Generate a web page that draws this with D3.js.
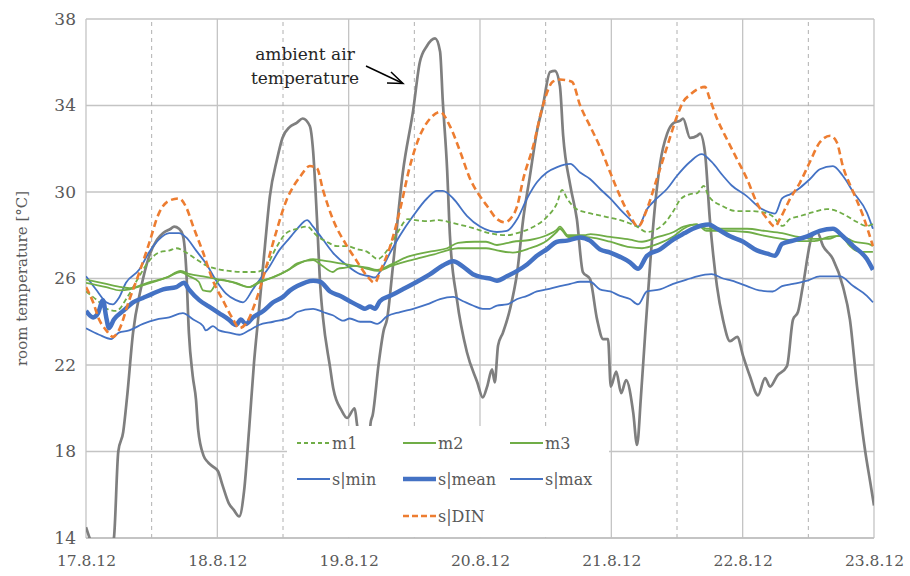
<!DOCTYPE html>
<html><head><meta charset="utf-8">
<script src="https://cdn.jsdelivr.net/npm/d3@7/dist/d3.min.js"></script>
<style>body{margin:0;background:#fff}svg{display:block}</style>
</head><body><svg id="c" width="910" height="576"></svg>
<script>
// x values are hours since 17.8.12 00:00
const xTickLabels = ["17.8.12","18.8.12","19.8.12","20.8.12","21.8.12","22.8.12","23.8.12"];
const yTicks = [14,18,22,26,30,34,38];

const ambient = [[0,14.5],[0.8,13.9],[2.5,13.0],[4.5,13.5],[5.1,14.0],[5.9,18.0],[6.8,18.9],[7.5,20.5],[8.6,23.5],[10,25.5],[11.5,27.0],[13,27.8],[14.1,28.1],[15.5,28.3],[16.1,28.4],[17.0,28.3],[17.7,28.0],[18.3,26.5],[18.8,23.5],[19.5,21.5],[20.1,20.4],[20.5,19.0],[21.5,17.8],[22.3,17.5],[23.2,17.3],[24.1,17.1],[25.0,16.4],[26.1,15.6],[27.0,15.3],[28.0,15.0],[28.9,16.2],[29.8,19.0],[30.7,22.1],[31.6,24.5],[32.7,27.5],[33.6,29.8],[34.9,31.5],[35.9,32.5],[37.2,33.0],[38.5,33.2],[39.6,33.4],[40.9,33.05],[41.5,31.9],[42.2,28.8],[42.8,25.7],[43.3,24.2],[44.6,21.9],[45.2,20.9],[46.7,19.9],[47.7,19.55],[49.1,20.0],[49.5,19.3],[50.5,17.5],[51.5,17.5],[52.0,19.3],[52.4,19.7],[53.5,22.1],[54.4,23.6],[55.0,24.1],[56.1,26.6],[57.9,30.9],[59.8,33.8],[61.0,36.0],[62.3,36.75],[63.8,37.1],[64.7,36.5],[65.2,34.2],[66.0,31.0],[66.5,28.0],[67.8,25.0],[69.6,22.6],[71.5,21.2],[72.5,20.5],[73.3,21.0],[74.2,21.8],[74.7,21.2],[75.3,22.9],[76.2,23.5],[77.5,24.6],[78.8,26.3],[79.9,28.75],[81.1,30.7],[82.4,32.8],[83.5,34.0],[84.8,35.55],[85.7,35.6],[86.6,34.9],[87.2,32.6],[88.5,30.3],[89.7,28.75],[90.8,26.3],[92.1,25.98],[93.4,24.1],[94.5,23.2],[95.4,23.2],[95.9,21.0],[96.9,21.7],[97.8,20.7],[98.7,21.3],[100.0,19.8],[100.7,18.3],[101.4,20.5],[102.2,23.5],[103.1,26.7],[104.0,29.4],[104.9,31.3],[106.2,32.7],[107.4,33.2],[108.6,33.3],[109.1,33.4],[110.4,32.5],[111.7,32.6],[112.2,32.7],[113.1,31.85],[114.0,28.75],[115.3,25.65],[116.4,24.1],[117.7,23.1],[119.0,23.3],[120.1,22.4],[121.3,21.5],[122.8,20.6],[124.1,21.4],[125.0,21.0],[126.3,21.5],[128.1,21.95],[129.2,24.1],[130.1,24.45],[131.0,25.65],[132.7,27.97],[133.6,28.15],[134.7,27.5],[136.5,26.9],[138.3,25.65],[139.6,24.1],[140.9,21.0],[142.4,18.0],[143.3,16.6],[144,15.5]];

const m1 = [[0,25.4],[2,25.0],[3.8,24.6],[5.5,24.5],[7.7,25.2],[9.5,26.0],[11.5,26.8],[13.3,27.2],[15.3,27.3],[16.5,27.4],[18.3,27.2],[20.1,26.9],[22.0,26.6],[23.8,26.45],[26.1,26.35],[28.7,26.3],[31.1,26.3],[32.9,26.55],[34.7,27.4],[36.6,28.1],[38.6,28.3],[40.4,28.4],[42.2,27.97],[44.0,27.7],[45.9,27.5],[47.7,27.5],[49.5,27.36],[51.4,27.23],[53.3,26.9],[55.2,27.36],[57.0,28.15],[58.8,28.75],[60.1,28.7],[62.3,28.65],[64.5,28.7],[66.9,28.57],[70.6,28.34],[73.7,28.1],[76.9,28.0],[78.8,28.1],[81.7,28.38],[84.2,28.84],[86.1,29.5],[87.0,30.1],[87.9,29.7],[89.7,29.2],[91.6,29.05],[95.2,28.84],[98.1,28.66],[100.7,28.4],[102.5,28.15],[105.5,28.5],[107.3,29.1],[108.6,29.65],[110.4,29.9],[111.7,29.95],[112.9,30.28],[113.8,29.8],[116.3,29.35],[118.8,29.12],[121.3,29.12],[123.6,29.07],[125.4,28.89],[127.3,28.43],[128.6,28.75],[130.5,28.89],[132.9,29.07],[135.4,29.21],[137.2,29.12],[139.0,28.89],[140.9,28.61],[142.7,28.43],[143.8,28.52]];

const m2 = [[0,25.95],[3.7,25.75],[6.5,25.6],[8.0,25.55],[11.2,25.8],[14.8,26.05],[17.3,26.35],[19.0,26.2],[21.4,26.1],[24.3,25.95],[27.4,25.8],[29.8,25.6],[31.6,25.85],[34.2,26.05],[37.0,26.4],[38.6,26.65],[41.5,26.9],[42.8,26.85],[45.4,26.75],[48.8,26.6],[51.4,26.5],[53.2,26.4],[55.8,26.65],[58.7,27.0],[61.0,27.15],[63.4,27.27],[66.0,27.4],[68.0,27.65],[71.0,27.7],[73.1,27.7],[75.1,27.55],[78.0,27.7],[81.1,27.78],[84.2,28.0],[86.0,28.25],[86.6,28.4],[88.1,28.0],[91.1,28.0],[92.2,28.05],[95.8,27.92],[99.4,27.8],[101.6,27.7],[104.5,27.92],[107.4,28.15],[109.2,28.4],[111.6,28.5],[113.4,28.3],[116.4,28.3],[120.8,28.3],[124.1,28.2],[127.2,28.1],[130.2,27.92],[133.1,27.83],[135.7,27.83],[137.5,27.97],[139.3,27.83],[140.5,27.69],[143.0,27.6],[143.8,27.5]];

const m3 = [[0,25.8],[3.7,25.6],[6.2,25.45],[8.0,25.5],[11.2,25.75],[14.8,26.05],[17.3,26.3],[18.9,26.1],[20.6,25.85],[21.4,25.45],[22.7,25.4],[23.6,25.7],[24.5,25.95],[26.5,25.85],[29.8,25.6],[31.6,25.8],[34.2,26.07],[37.0,26.4],[38.6,26.7],[41.5,26.85],[43.1,26.6],[45.1,26.3],[46.0,26.45],[47.4,26.5],[49.3,26.58],[51.4,26.45],[53.2,26.35],[55.8,26.58],[58.7,26.8],[61.0,26.95],[63.4,27.1],[66.0,27.3],[68.0,27.4],[71.0,27.4],[73.1,27.4],[75.1,27.3],[78.0,27.2],[81.1,27.4],[84.2,27.75],[86.0,28.15],[86.6,28.3],[88.1,27.92],[91.1,27.92],[92.2,27.9],[95.8,27.7],[99.4,27.45],[101.6,27.4],[104.5,27.6],[107.4,27.95],[109.2,28.3],[111.6,28.5],[113.4,28.2],[116.4,28.2],[120.8,28.15],[124.1,27.97],[127.2,27.83],[130.2,27.73],[133.1,27.73],[135.7,27.92],[137.9,27.97],[139.6,27.5],[140.9,27.27],[142.7,27.23],[143.8,27.23]];

const sMin = [[0,23.7],[2.4,23.4],[4.6,23.2],[6.0,23.5],[7.9,23.6],[10.4,23.9],[12.8,24.1],[15.2,24.2],[17.7,24.4],[19.6,24.1],[21.4,23.8],[21.9,23.6],[23.2,23.8],[24.3,23.6],[26.1,23.5],[28.0,23.4],[29.8,23.6],[31.6,23.85],[34.2,24.0],[37.3,24.2],[38.6,24.45],[41.5,24.6],[43.3,24.45],[45.1,24.3],[47.0,24.05],[48.2,24.15],[50.1,24.0],[51.9,24.0],[53.2,23.9],[55.0,24.25],[57.4,24.45],[59.8,24.6],[62.3,24.8],[64.7,25.05],[67.1,25.15],[68.9,24.95],[70.7,24.75],[72.5,24.6],[73.8,24.6],[75.1,24.75],[76.9,24.8],[78.8,25.05],[80.6,25.2],[82.4,25.4],[84.2,25.5],[86.6,25.65],[88.5,25.75],[90.3,25.85],[92.1,25.85],[93.9,25.5],[95.8,25.4],[97.6,25.2],[99.4,25.05],[100.9,24.8],[102.5,25.4],[104.9,25.5],[107.3,25.75],[110.4,26.0],[111.7,26.1],[114.3,26.2],[116.4,26.0],[118.0,25.9],[120.8,25.65],[123.0,25.45],[125.5,25.4],[127.2,25.65],[129.2,25.75],[131.8,25.9],[134.1,26.1],[137.8,26.1],[140.2,25.65],[142.7,25.2],[143.8,24.9]];

const sMean = [[0,24.5],[1.3,24.2],[2.2,24.4],[3.1,25.0],[3.7,24.2],[4.2,23.7],[5.1,24.1],[6.8,24.5],[8.6,24.9],[10.4,25.1],[12.2,25.3],[14.1,25.5],[16.5,25.6],[17.9,25.8],[18.8,25.5],[20.7,25.0],[22.5,24.7],[24.3,24.4],[26.1,24.1],[27.4,23.85],[28.3,24.1],[29.2,23.9],[30.5,24.2],[32.4,24.5],[34.2,24.9],[36.0,25.15],[37.3,25.45],[38.6,25.65],[41.5,25.9],[42.8,25.85],[44.6,25.4],[46.4,25.2],[48.2,24.95],[50.1,24.7],[51.0,24.6],[51.9,24.7],[52.8,24.6],[53.7,24.95],[55.6,25.2],[57.9,25.5],[60.5,25.85],[62.9,26.2],[65.2,26.6],[67.1,26.8],[68.9,26.55],[70.7,26.2],[72.5,26.05],[73.8,26.0],[75.1,25.9],[76.9,26.1],[78.8,26.35],[80.6,26.65],[82.4,27.05],[84.2,27.35],[86.1,27.7],[87.9,27.75],[90.3,27.9],[92.1,27.75],[93.9,27.35],[95.8,27.2],[97.6,27.0],[99.4,26.75],[100.9,26.45],[102.5,27.05],[104.9,27.35],[107.3,27.8],[109.4,28.1],[110.9,28.3],[112.5,28.45],[113.8,28.5],[115.3,28.3],[117.7,27.95],[120.1,27.7],[122.6,27.3],[124.5,27.15],[125.9,27.05],[127.2,27.6],[129.2,27.75],[131.8,27.95],[134.1,28.2],[136.5,28.3],[138.3,27.95],[140.2,27.5],[142.7,26.9],[143.8,26.4]];

const sMax = [[0,26.1],[1.8,25.5],[3.7,24.9],[4.9,24.8],[6.0,25.1],[7.3,25.8],[9.7,26.4],[11.5,27.2],[13.3,27.8],[15.2,28.1],[17.0,28.1],[18.3,27.9],[20.1,27.3],[21.9,26.7],[23.8,25.9],[25.6,25.3],[27.4,25.0],[28.7,24.9],[30.5,25.5],[31.6,25.9],[33.4,26.5],[35.3,27.3],[37.3,27.9],[38.6,28.3],[40.4,28.7],[41.5,28.4],[43.3,27.8],[45.1,27.2],[47.7,26.6],[50.1,26.2],[51.9,26.1],[52.8,26.05],[53.7,26.3],[55.6,27.2],[57.4,28.0],[59.8,28.9],[62.3,29.7],[64.1,30.05],[65.2,30.05],[67.1,29.7],[69.6,28.9],[72.0,28.4],[73.8,28.2],[75.1,28.15],[76.9,28.2],[78.8,28.75],[80.6,29.7],[82.4,30.45],[84.2,30.9],[86.1,31.15],[88.5,31.3],[90.3,30.9],[92.1,30.6],[93.9,30.15],[95.8,29.7],[97.6,29.2],[99.4,28.75],[100.9,28.4],[102.5,29.2],[104.3,29.7],[106.2,30.15],[108.0,30.75],[110.4,31.4],[112.5,31.75],[114.3,31.4],[116.4,30.75],[118.0,30.3],[120.8,29.8],[123.0,29.3],[125.0,29.05],[125.9,29.0],[127.2,29.7],[128.7,29.9],[130.5,30.2],[132.3,30.6],[134.1,31.05],[136.5,31.2],[138.3,30.75],[140.2,30.0],[142.7,29.05],[143.8,28.3]];

const sDIN = [[0,25.6],[1.3,24.9],[2.4,24.1],[3.7,23.6],[4.9,23.3],[6.0,23.6],[7.9,25.0],[9.7,26.25],[11.5,27.6],[13.3,29.0],[15.2,29.6],[17.0,29.7],[18.3,29.3],[19.6,28.4],[21.4,27.2],[23.2,25.9],[25.0,25.0],[26.9,24.1],[28.0,23.7],[29.2,23.9],[31.1,25.0],[32.9,26.5],[34.7,28.1],[36.6,29.6],[38.0,30.3],[39.1,30.7],[40.9,31.2],[42.2,31.1],[43.3,30.1],[45.1,28.75],[47.7,27.5],[49.5,26.8],[51.4,26.1],[52.8,25.8],[53.7,26.3],[55.6,27.5],[57.4,29.2],[59.2,31.2],[61.0,32.6],[62.9,33.4],[64.7,33.7],[66.5,33.05],[68.4,31.85],[70.2,30.6],[72.0,29.8],[73.3,29.35],[75.1,28.75],[76.6,28.6],[77.5,28.75],[78.8,29.35],[79.9,30.6],[81.7,32.1],[83.5,34.0],[85.3,35.1],[86.6,35.2],[88.8,35.1],[90.3,34.0],[92.1,33.05],[93.9,32.1],[95.8,30.9],[97.6,29.8],[99.4,28.9],[100.9,28.4],[102.5,29.2],[104.3,30.6],[106.2,32.1],[108.0,33.5],[109.1,34.16],[110.4,34.5],[111.7,34.75],[113.1,34.86],[114.0,34.3],[115.3,33.4],[117.1,32.45],[119.0,31.5],[120.8,30.6],[122.6,29.5],[124.5,28.75],[125.9,28.4],[126.8,28.75],[128.7,29.7],[130.5,30.45],[132.3,31.4],[134.1,32.3],[136.0,32.6],[137.2,32.3],[138.3,31.2],[140.2,30.0],[142.0,28.9],[143.8,27.5]];

const legendNames = ["m1","m2","m3","s|min","s|mean","s|max","s|DIN"];

const W = 910, H = 576;
const margin = {left:86, right:36, top:19, bottom:38};
const svg = d3.select("#c");
const x = d3.scaleLinear().domain([0,144]).range([margin.left, W-margin.right]);
const y = d3.scaleLinear().domain([14,38]).range([H-margin.bottom, margin.top]);
const FONT = "'DejaVu Serif', serif";
const TXT = "#595959";
const GRID = "#c4c4c4";

// gridlines
const g = svg.append("g");
g.selectAll("line.h").data(yTicks).join("line")
  .attr("x1", x(0)).attr("x2", x(144)).attr("y1", d=>y(d)).attr("y2", d=>y(d))
  .attr("stroke", GRID).attr("stroke-width", 1.3);
const halfDays = d3.range(0, 145, 12);
g.selectAll("line.v").data(halfDays).join("line")
  .attr("x1", d=>x(d)).attr("x2", d=>x(d)).attr("y1", y(14)).attr("y2", y(38))
  .attr("stroke", d => d%24===0 ? GRID : "#b0b0b0")
  .attr("stroke-width", d => d%24===0 ? 1.3 : 1)
  .attr("stroke-dasharray", d => d%24===0 ? null : "4,4");
g.append("line").attr("x1", x(0)).attr("x2", x(144)).attr("y1", y(14)).attr("y2", y(14))
  .attr("stroke", "#bfbfbf").attr("stroke-width", 1.5);

// axes labels via d3 axes
const yAxis = d3.axisLeft(y).tickValues(yTicks).tickSize(0).tickPadding(10);
svg.append("g").attr("transform", `translate(${x(0)},0)`).call(yAxis)
  .call(a => a.select(".domain").remove())
  .selectAll("text").attr("font-family", FONT).attr("font-size", 17).attr("fill", TXT);
const xAxis = d3.axisBottom(x).tickValues(d3.range(0,145,24)).tickSize(0).tickPadding(17)
  .tickFormat((d,i) => xTickLabels[i]);
svg.append("g").attr("transform", `translate(0,${y(14)})`).call(xAxis)
  .call(a => a.select(".domain").remove())
  .selectAll("text").attr("font-family", FONT).attr("font-size", 15.5).attr("fill", TXT);

svg.append("text").attr("transform", `translate(27,${y(26)}) rotate(-90)`)
  .attr("text-anchor","middle").attr("font-family", FONT).attr("font-size", 15)
  .attr("fill", TXT).text("room temperature [°C]");

// clip
svg.append("clipPath").attr("id","clip").append("rect")
  .attr("x", x(0)).attr("y", y(38)).attr("width", x(144)-x(0)).attr("height", y(14)-y(38));

const line = d3.line().x(d=>x(d[0])).y(d=>y(d[1])).curve(d3.curveMonotoneX);
const GREEN = "#70ad47", BLUE = "#4472c4", ORANGE = "#ed7d31", GRAY = "#7f7f7f";
const series = [
  {d: ambient, c: GRAY, w: 2.7, dash: null},
  {d: sMin, c: BLUE, w: 1.8, dash: null},
  {d: sMax, c: BLUE, w: 1.8, dash: null},
  {d: m2, c: GREEN, w: 1.8, dash: null},
  {d: m3, c: GREEN, w: 1.8, dash: null},
  {d: m1, c: GREEN, w: 1.8, dash: "5,3"},
  {d: sMean, c: BLUE, w: 4.5, dash: null},
  {d: sDIN, c: ORANGE, w: 2.6, dash: "7,4"}
];
const pg = svg.append("g").attr("clip-path","url(#clip)");
series.forEach(s => {
  pg.append("path").datum(s.d).attr("d", line).attr("fill","none")
    .attr("stroke", s.c).attr("stroke-width", s.w)
    .attr("stroke-dasharray", s.dash).attr("stroke-linejoin","round");
});

// legend
const lg = svg.append("g");
lg.append("rect").attr("x", 287).attr("y", 426).attr("width", 322).attr("height", 111).attr("fill", "#fff");
const legStyle = {
  "m1": {c: GREEN, w: 1.8, dash: "4,3"},
  "m2": {c: GREEN, w: 2, dash: null},
  "m3": {c: GREEN, w: 2, dash: null},
  "s|min": {c: BLUE, w: 2, dash: null},
  "s|mean": {c: BLUE, w: 4.5, dash: null},
  "s|max": {c: BLUE, w: 2, dash: null},
  "s|DIN": {c: ORANGE, w: 2.6, dash: "6,3"}
};
const colX = [297, 403, 510];
const rowY = [443, 479, 516];
legendNames.forEach((n, i) => {
  const col = i === 6 ? 1 : i % 3;
  const row = Math.floor(i / 3);
  const st = legStyle[n];
  const lx = colX[col], ly = rowY[row];
  lg.append("line").attr("x1", lx).attr("x2", lx+33).attr("y1", ly).attr("y2", ly)
    .attr("stroke", st.c).attr("stroke-width", st.w).attr("stroke-dasharray", st.dash);
  lg.append("text").attr("x", lx+35).attr("y", ly+5.5).attr("font-family", FONT)
    .attr("font-size", 16).attr("fill", TXT).text(n);
});

// annotation
const an = svg.append("g");
an.append("text").attr("x", 305).attr("y", 60).attr("text-anchor","middle")
  .attr("font-family", FONT).attr("font-size", 17).attr("fill", "#262626").text("ambient air");
an.append("text").attr("x", 305).attr("y", 84).attr("text-anchor","middle")
  .attr("font-family", FONT).attr("font-size", 17).attr("fill", "#262626").text("temperature");
an.append("line").attr("x1", 366).attr("y1", 66).attr("x2", 402).attr("y2", 83)
  .attr("stroke", "#000").attr("stroke-width", 1.5);
an.append("path").attr("d", "M391,72 L403,83.5 L387,83").attr("fill","none")
  .attr("stroke", "#000").attr("stroke-width", 1.5);
</script></body></html>
